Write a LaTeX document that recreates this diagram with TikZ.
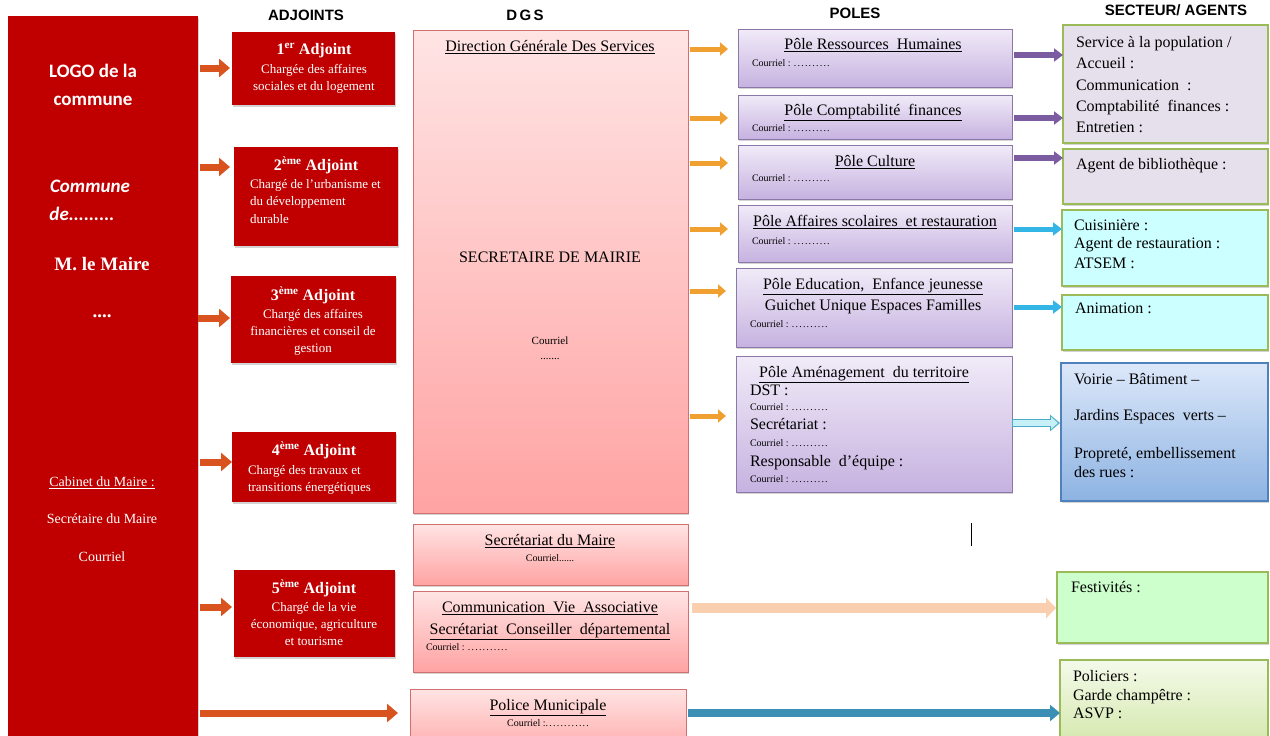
\documentclass[tikz,border=0pt]{standalone}
\usepackage{fontspec}
\setmainfont{Liberation Serif}
\newfontfamily\hsans{Liberation Sans}
\newfontfamily\logofont{Carlito}
\newfontfamily\dotfont[LetterSpace=12]{Liberation Serif}
\usetikzlibrary{arrows.meta,shadows,calc}
\newcommand\fs[1]{\fontsize{#1}{#1}\selectfont}
\newcommand\dd[1]{{\dotfont #1}}
\definecolor{mred}{HTML}{C00000}
\definecolor{arrRed}{HTML}{D9531E}
\definecolor{arrOrange}{HTML}{F0A030}
\definecolor{arrPurple}{HTML}{7B5CA0}
\definecolor{arrCyan}{HTML}{33B5E5}
\definecolor{arrLcyan}{HTML}{C6EFF7}
\definecolor{arrLcyanB}{HTML}{4BACC6}
\definecolor{arrPeach}{HTML}{F9CFAF}
\definecolor{arrTeal}{HTML}{3B8FB4}
\definecolor{pinkT}{HTML}{FFE4E4}
\definecolor{pinkB}{HTML}{FFA3A3}
\definecolor{pinkD}{HTML}{D07070}
\definecolor{purT}{HTML}{F1EBF8}
\definecolor{purB}{HTML}{C6B2E0}
\definecolor{purD}{HTML}{8C78A8}
\definecolor{secGray}{HTML}{E5E0EC}
\definecolor{secG}{HTML}{9BBB59}
\definecolor{secCyan}{HTML}{CCFFFF}
\definecolor{bluT}{HTML}{DDE8FA}
\definecolor{bluB}{HTML}{8DB3E2}
\definecolor{bluD}{HTML}{4F81BD}
\definecolor{festG}{HTML}{CCFFCC}
\definecolor{polT}{HTML}{F4FAEA}
\definecolor{polB}{HTML}{D6E9B0}
\begin{document}
\begin{tikzpicture}[x=1pt,y=-1pt,
  t/.style={inner sep=0pt, outer sep=0pt, text height=1.0em, text depth=0.06em},
  hdr/.style={t, font=\hsans\bfseries\fs{15}},
  big/.style={t, font=\fs{16}},
  sml/.style={t, font=\fs{10}},
  wtxt/.style={t, font=\fs{14}, text=white},
  adjt/.style={t, font=\bfseries\fs{16}, text=white},
  adjb/.style={t, font=\fs{13}, text=white},
  box/.style={rectangle, inner sep=0pt, outer sep=0pt, anchor=north west,
    drop shadow={shadow xshift=1.2pt, shadow yshift=-1.5pt, opacity=0.35}},
  redbox/.style={box, fill=mred},
  pinkbox/.style={box, draw=pinkD, line width=1pt, top color=pinkT, bottom color=pinkB},
  purbox/.style={box, draw=purD, line width=0.8pt, top color=purT, bottom color=purB},
  secbox/.style={box, draw=secG, line width=1.2pt},
  rarr/.style={draw=arrRed, line width=7pt, -{Triangle[length=11pt,width=18pt]}},
  oarr/.style={draw=arrOrange, line width=5pt, -{Triangle[length=8pt,width=13pt]}},
  parr/.style={draw=arrPurple, line width=6pt, -{Triangle[length=9pt,width=13pt]}},
  carr/.style={draw=arrCyan, line width=5pt, -{Triangle[length=9pt,width=13pt]}},
]
\useasboundingbox (0,0) rectangle (1270,736);
\clip (0,0) rectangle (1270,736);

% headers
\node[hdr] (hA) at (306,16) {ADJOINTS};
\node[hdr] (hD) at (525,16) {D\,G\,S};
\node[hdr] (hP) at (855,14) {POLES};
\node[hdr] (hS) at (1176,11) {SECTEUR/ AGENTS};

% logo column
\node[redbox, minimum width=190, minimum height=730] (logo) at (8,16) {};
\node[t, font=\logofont\bfseries\fs{19}, text=white] (l1) at (93,73) {LOGO de la};
\node[t, font=\logofont\bfseries\fs{19}, text=white] (l2) at (93,101) {commune};
\node[t, font=\logofont\bfseries\itshape\fs{19}, text=white] (l3) at (90,188) {Commune};
\node[t, font=\logofont\bfseries\itshape\fs{19}, text=white] (l4) at (82,216) {de.........};
\node[t, font=\bfseries\fs{19}, text=white] (l5) at (102,266) {M. le Maire};
\node[t, font=\bfseries\fs{19}, text=white] (l6) at (102,313) {....};
\node[wtxt] (l7) at (102,482) {\underline{Cabinet du Maire :}};
\node[wtxt] (l8) at (102,519) {Secrétaire du Maire};
\node[wtxt] (l9) at (102,557) {Courriel};

% adjoints
\node[redbox, minimum width=163, minimum height=73] (a1) at (232,32) {};
\node[adjt] (a1t) at (314,50) {1\textsuperscript{er} Adjoint};
\node[adjb] (a1b) at (314,69) {Chargée des affaires};
\node[adjb] (a1c) at (314,86) {sociales et du logement};

\node[redbox, minimum width=164, minimum height=99] (a2) at (234,147) {};
\node[adjt] (a2t) at (316,166) {2\textsuperscript{ème} Adjoint};
\node[adjb, anchor=west] (a2b) at (250,184) {Chargé de l’urbanisme et};
\node[adjb, anchor=west] (a2c) at (250,201) {du développement};
\node[adjb, anchor=west] (a2d) at (250,219) {durable};

\node[redbox, minimum width=165, minimum height=87] (a3) at (231,276) {};
\node[adjt] (a3t) at (313,296) {3\textsuperscript{ème} Adjoint};
\node[adjb] (a3b) at (313,314) {Chargé des affaires};
\node[adjb] (a3c) at (313,331) {financières et conseil de};
\node[adjb] (a3d) at (313,348) {gestion};

\node[redbox, minimum width=164, minimum height=70] (a4) at (232,432) {};
\node[adjt] (a4t) at (314,451) {4\textsuperscript{ème} Adjoint};
\node[adjb, anchor=west] (a4b) at (248,470) {Chargé des travaux et};
\node[adjb, anchor=west] (a4c) at (248,487) {transitions énergétiques};

\node[redbox, minimum width=161, minimum height=87] (a5) at (234,570) {};
\node[adjt] (a5t) at (314,589) {5\textsuperscript{ème} Adjoint};
\node[adjb] (a5b) at (314,607) {Chargé de la vie};
\node[adjb] (a5c) at (314,624) {économique, agriculture};
\node[adjb] (a5d) at (314,641) {et tourisme};

% DGS column
\node[pinkbox, minimum width=275, minimum height=483] (dgs) at (413,30) {};
\node[big] (dgs1) at (550,47) {\underline{Direction Générale Des Services}};
\node[big] (dgs2) at (550,258) {SECRETAIRE DE MAIRIE};
\node[sml, font=\fs{11}] (dgs3) at (550,340) {Courriel};
\node[sml, font=\fs{11}] (dgs4) at (550,355) {.......};

\node[pinkbox, minimum width=275, minimum height=61] (sm) at (413,524) {};
\node[big] (sm1) at (550,541) {\underline{Secrétariat du Maire}};
\node[sml] (sm2) at (550,557) {Courriel......};

\node[pinkbox, minimum width=275, minimum height=81] (com) at (413,591) {};
\node[big] (com1) at (550,608) {\underline{Communication\ \ Vie\ \ Associative}};
\node[big] (com2) at (550,630) {\underline{Secrétariat\ \ Conseiller\ \ départemental}};
\node[sml, anchor=west] (com3) at (426,646) {Courriel : \dd{...........}};

\node[pinkbox, minimum width=276, minimum height=70] (pol) at (410,689) {};
\node[big] (pol1) at (548,706) {\underline{Police Municipale}};
\node[sml] (pol2) at (548,722) {Courriel :\dd{............}};

% poles
\node[purbox, minimum width=274, minimum height=58] (p1) at (738,29) {};
\node[big] (p1t) at (873,45) {\underline{Pôle Ressources\ \ Humaines}};
\node[sml, anchor=west] (p1c) at (752,62) {Courriel : \dd{..........}};

\node[purbox, minimum width=274, minimum height=44] (p2) at (738,95) {};
\node[big] (p2t) at (873,111) {\underline{Pôle Comptabilité\ \ finances}};
\node[sml, anchor=west] (p2c) at (752,127) {Courriel : \dd{..........}};

\node[purbox, minimum width=274, minimum height=54] (p3) at (738,145) {};
\node[big] (p3t) at (875,162) {\underline{Pôle Culture}};
\node[sml, anchor=west] (p3c) at (752,177) {Courriel : \dd{..........}};

\node[purbox, minimum width=274, minimum height=57] (p4) at (738,205) {};
\node[big] (p4t) at (875,222) {\underline{Pôle Affaires scolaires\ \ et restauration}};
\node[sml, anchor=west] (p4c) at (752,240) {Courriel : \dd{..........}};

\node[purbox, minimum width=276, minimum height=79] (p5) at (736,268) {};
\node[big] (p5t) at (873,285) {\underline{Pôle Education,\ \ Enfance jeunesse}};
\node[big] (p5u) at (873,306) {Guichet Unique Espaces Familles};
\node[sml, anchor=west] (p5c) at (750,323) {Courriel : \dd{..........}};

\node[purbox, minimum width=276, minimum height=136] (p6) at (736,356) {};
\node[big] (p6t) at (864,373) {\underline{Pôle Aménagement\ \ du territoire}};
\node[big, anchor=west] (p6a) at (750,391) {DST :};
\node[sml, anchor=west] (p6b) at (750,406) {Courriel : \dd{..........}};
\node[big, anchor=west] (p6c) at (750,425) {Secrétariat :};
\node[sml, anchor=west] (p6d) at (750,442) {Courriel : \dd{..........}};
\node[big, anchor=west] (p6e) at (750,462) {Responsable\ \ d’équipe :};
\node[sml, anchor=west] (p6f) at (750,478) {Courriel : \dd{..........}};

% sectors
\node[secbox, fill=secGray, minimum width=205, minimum height=118] (s1) at (1063,25) {};
\node[big, anchor=west] (s1a) at (1076,43) {Service à la population /};
\node[big, anchor=west] (s1b) at (1076,64) {Accueil :};
\node[big, anchor=west] (s1c) at (1076,86) {Communication\ \ :};
\node[big, anchor=west] (s1d) at (1076,107) {Comptabilité\ \ finances :};
\node[big, anchor=west] (s1e) at (1076,128) {Entretien :};

\node[secbox, fill=secGray, minimum width=205, minimum height=55] (s2) at (1063,149) {};
\node[big, anchor=west] (s2a) at (1076,165) {Agent de bibliothèque :};

\node[secbox, fill=secCyan, minimum width=206, minimum height=76] (s3) at (1062,210) {};
\node[big, anchor=west] (s3a) at (1074,226) {Cuisinière :};
\node[big, anchor=west] (s3b) at (1074,244) {Agent de restauration :};
\node[big, anchor=west] (s3c) at (1074,264) {ATSEM :};

\node[secbox, fill=secCyan, minimum width=206, minimum height=55] (s4) at (1062,295) {};
\node[big, anchor=west] (s4a) at (1075,309) {Animation :};

\node[secbox, draw=bluD, top color=bluT, bottom color=bluB, minimum width=207, minimum height=138] (s5) at (1061,363) {};
\node[big, anchor=west] (s5a) at (1074,380) {Voirie – Bâtiment –};
\node[big, anchor=west] (s5b) at (1074,416) {Jardins Espaces\ \ verts –};
\node[big, anchor=west] (s5c) at (1074,454) {Propreté,\ embellissement};
\node[big, anchor=west] (s5d) at (1074,473) {des rues :};

\node[secbox, fill=festG, minimum width=211, minimum height=71] (s6) at (1057,572) {};
\node[big, anchor=west] (s6a) at (1071,588) {Festivités :};

\node[secbox, top color=polT, bottom color=polB, minimum width=208, minimum height=80] (s7) at (1060,660) {};
\node[big, anchor=west] (s7a) at (1073,677) {Policiers :};
\node[big, anchor=west] (s7b) at (1073,696) {Garde champêtre :};
\node[big, anchor=west] (s7c) at (1073,714) {ASVP :};

% arrows logo -> adjoints
\draw[rarr, shorten <=2pt, shorten >=2pt] (logo.east |- 0,68) -- (a1.west |- 0,68);
\draw[rarr, shorten <=2pt, shorten >=4pt] (logo.east |- 0,167) -- (a2.west |- 0,167);
\draw[rarr, shorten <=0pt, shorten >=1pt] (logo.east |- 0,318) -- (a3.west |- 0,318);
\draw[rarr, shorten <=2pt, shorten >=0pt] (logo.east |- 0,462) -- (a4.west |- 0,462);
\draw[rarr, shorten <=2pt, shorten >=2pt] (logo.east |- 0,607) -- (a5.west |- 0,607);
\draw[rarr, shorten <=2pt, shorten >=12pt] (logo.east |- 0,713) -- (pol.west |- 0,713);

% arrows DGS -> poles
\foreach \p/\yy in {p1/49, p2/118, p3/163, p4/229, p5/291, p6/416}
  \draw[oarr, shorten <=2pt, shorten >=10pt] (dgs.east |- 0,\yy) -- (\p.west |- 0,\yy);

% arrows poles -> sectors
\draw[parr, shorten <=2pt, shorten >=0pt] (p1.east |- 0,55) -- (s1.west |- 0,55);
\draw[parr, shorten <=2pt, shorten >=0pt] (p2.east |- 0,118) -- (s1.west |- 0,118);
\draw[parr, shorten <=2pt, shorten >=0pt] (p3.east |- 0,158) -- (s2.west |- 0,158);
\draw[carr, shorten <=2pt, shorten >=0pt] (p4.east |- 0,229) -- (s3.west |- 0,229);
\draw[carr, shorten <=2pt, shorten >=0pt] (p5.east |- 0,307) -- (s4.west |- 0,307);
\draw[draw=arrLcyanB, line width=8pt, -{Triangle[length=10pt,width=16pt]}, shorten >=1pt] (p6.east |- 0,423) -- (s5.west |- 0,423);
\draw[draw=arrLcyan, line width=5.5pt, -{Triangle[length=7pt,width=12pt]}, shorten >=3pt, shorten <=1pt] (p6.east |- 0,423) -- (s5.west |- 0,423);
\draw[draw=arrPeach, line width=10pt, -{Triangle[length=10pt,width=20pt]}, shorten <=4pt, shorten >=1pt] (com.east |- 0,608) -- (s6.west |- 0,608);
\draw[draw=arrTeal, line width=8pt, -{Triangle[length=10pt,width=16pt]}, shorten <=2pt, shorten >=0pt] (pol.east |- 0,713) -- (s7.west |- 0,713);

% text cursor
\draw[line width=1pt] (971,523) -- (971,546);
\end{tikzpicture}
\end{document}
